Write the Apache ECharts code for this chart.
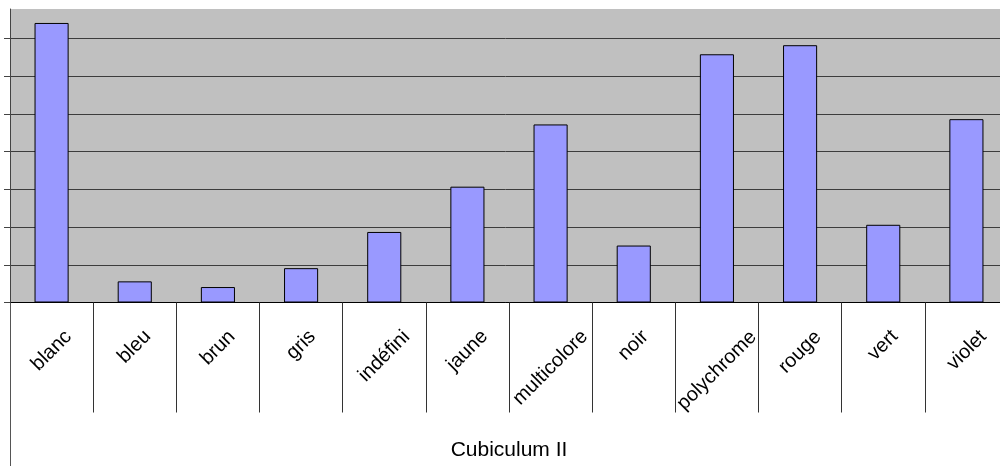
<!DOCTYPE html>
<html>
<head>
<meta charset="utf-8">
<script src="https://cdn.jsdelivr.net/npm/echarts@6/dist/echarts.min.js"></script>
<style>
  html, body { margin: 0; padding: 0; background: #ffffff; }
  #chart { width: 1000px; height: 466px; }
</style>
</head>
<body>
<div id="chart"></div>
<script>
// Data (values in grid-line units)
const categories = ['blanc', 'bleu', 'brun', 'gris', 'indéfini', 'jaune', 'multicolore', 'noir', 'polychrome', 'rouge', 'vert', 'violet'];
const values = [7.41, 0.56, 0.41, 0.91, 1.87, 3.07, 4.72, 1.51, 6.58, 6.82, 2.06, 4.86];
const groupLabels = ['Cubiculum II'];
const yTicks = [0, 1, 2, 3, 4, 5, 6, 7];
const yMin = 0;
const yMax = 7.78;
const yInterval = 1;

const LABEL_FONT_SIZE = 20;
const FONT_FAMILY = '"Liberation Sans", Arial, sans-serif';

// Measure each label so that rotated labels are centred under their category
// with their top ends aligned (as in the original spreadsheet chart).
const ctx = document.createElement('canvas').getContext('2d');
ctx.font = LABEL_FONT_SIZE + 'px ' + FONT_FAMILY;
const categoryItems = categories.map(function (name) {
  const w = ctx.measureText(name).width;
  const H = LABEL_FONT_SIZE;
  return {
    value: name,
    textStyle: {
      align: 'center', verticalAlign: 'top',
      padding: [Math.round(w * 0.25), Math.round(w * 0.5 + H), 0, 0]
    }
  };
});

const chart = echarts.init(document.getElementById('chart'), null, { renderer: 'canvas' });
chart.setOption({
  animation: false,
  backgroundColor: '#ffffff',
  textStyle: { fontFamily: FONT_FAMILY },
  grid: {
    left: 10, top: 9, width: 998, height: 293.5,
    outerBoundsMode: 'none', containLabel: false,
    show: true, backgroundColor: '#c0c0c0', borderWidth: 0
  },
  xAxis: [
    {
      type: 'category',
      data: categoryItems,
      position: 'bottom',
      boundaryGap: true,
      axisLine: { show: true, lineStyle: { color: '#000000', width: 1 } },
      axisTick: { show: true, interval: 0, length: 110, lineStyle: { color: '#333333', width: 1 } },
      axisLabel: {
        show: true, interval: 0, rotate: 45, align: 'center', verticalAlign: 'top',
        margin: 17, fontSize: LABEL_FONT_SIZE, color: '#000000', fontFamily: FONT_FAMILY
      },
      splitLine: { show: false }
    },
    {
      type: 'category',
      data: groupLabels,
      position: 'bottom',
      boundaryGap: true,
      axisLine: { show: false },
      axisTick: { show: true, interval: 0, length: 164, lineStyle: { color: '#555555', width: 1 } },
      axisLabel: {
        show: true, interval: 0, margin: 137, fontSize: 21, color: '#000000', fontFamily: FONT_FAMILY
      },
      splitLine: { show: false }
    }
  ],
  yAxis: {
    type: 'value',
    min: yMin, max: yMax, interval: yInterval,
    axisLine: { show: true, lineStyle: { color: '#444444', width: 1 } },
    axisTick: { show: true, length: 6, customValues: yTicks, lineStyle: { color: '#444444', width: 1 } },
    axisLabel: { show: false },
    splitLine: { show: true, lineStyle: { color: '#3c3c3c', width: 1 } }
  },
  series: [
    {
      type: 'bar',
      data: values,
      xAxisIndex: 0,
      barWidth: '41%',
      itemStyle: { color: '#9999ff', borderColor: '#000000', borderWidth: 1 }
    }
  ]
});
</script>
</body>
</html>
